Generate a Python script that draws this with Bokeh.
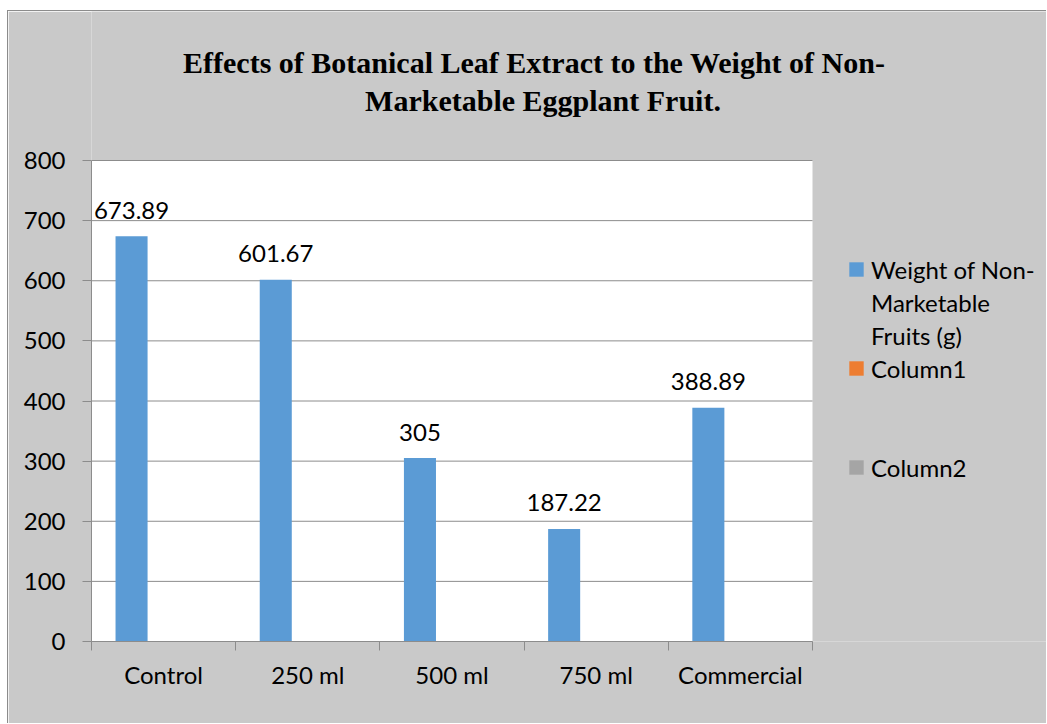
import numpy as np
from bokeh.plotting import figure
from bokeh.models import (BoxAnnotation, ColumnDataSource, FixedTicker, Label,
                          Legend, LegendItem, Range1d)
from bokeh.transform import dodge
from bokeh.core.properties import value
from bokeh.embed import file_html
from bokeh.resources import INLINE

# --- data -------------------------------------------------------------
categories = ["Control", "250 ml", "500 ml", "750 ml", "Commercial"]
weight_g = [673.89, 601.67, 305, 187.22, 388.89]
column1 = [np.nan, np.nan, np.nan, np.nan, np.nan]
column2 = [np.nan, np.nan, np.nan, np.nan, np.nan]
y_ticks = [0, 100, 200, 300, 400, 500, 600, 700, 800]
y_max = 800
series_lines = [["Weight of Non-", "Marketable", "Fruits (g)"], ["Column1"], ["Column2"]]
title_lines = ["Effects of Botanical Leaf  Extract to the Weight of Non-",
               "Marketable Eggplant Fruit."]

# --- styling ----------------------------------------------------------
FONT = "Lato"
TITLE_FONT = "Liberation Serif"
BG = "#C9C9C9"
LINE = "#8C8C8C"
COLORS = ["#5B9BD5", "#ED7D31", "#A5A5A5"]
FS = "24px"

# canvas / plot-area geometry (pixels)
W, H = 1039, 713
LEFT, BOTTOM = 83, 83          # room for the axes
PLOT_W, PLOT_H = 721, 481      # white plotting area
FRAME_W, FRAME_H = W - LEFT, H - BOTTOM

n = len(categories)
centers = np.arange(n) + 0.5
bar_w = 2 / 9  # three series per group, gap of 1.5 bar widths
source = ColumnDataSource(dict(
    x=centers, cat=categories, weight=weight_g, col1=column1, col2=column2,
    label=[f"{v:g}" for v in weight_g],
))

# the frame spans the whole chart area; the data region sits in its lower left
p = figure(width=W, height=H, title=None,
           x_range=Range1d(0, n * FRAME_W / PLOT_W),
           y_range=Range1d(0, y_max * FRAME_H / PLOT_H),
           output_backend="svg", toolbar_location=None,
           min_border_left=LEFT, min_border_top=0,
           min_border_right=0, min_border_bottom=BOTTOM,
           background_fill_color=BG, border_fill_color=BG,
           outline_line_color=None, margin=(10, 0, 0, 7))
p.styles = {"border-top": f"1px solid {LINE}", "border-left": f"1px solid {LINE}"}

# white plotting area
p.add_layout(BoxAnnotation(left=0, right=n, bottom=0, top=y_max,
                           fill_color="white", fill_alpha=1, line_color=None,
                           level="underlay"))

# horizontal gridlines across the plotting area
grid_src = ColumnDataSource(dict(y=y_ticks, x0=[0] * len(y_ticks), x1=[n] * len(y_ticks)))
p.segment(x0="x0", x1="x1", y0="y", y1="y", source=grid_src,
          line_color=LINE, line_width=1)

renderers = []
for i, (col, color) in enumerate(zip(["weight", "col1", "col2"], COLORS)):
    r = p.vbar(x=dodge("x", (i - 1) * bar_w), top=col, width=bar_w,
               source=source, fill_color=color, line_color=None)
    renderers.append(r)
# invisible renderer for legend rows without a swatch
blank = p.vbar(x="x", top="col1", width=bar_w, source=source,
               fill_alpha=0, line_color=None)

p.text(x=dodge("x", -bar_w), y="weight", text="label", source=source,
       text_align="center", text_baseline="middle", y_offset=-26,
       text_font=value(FONT), text_font_size=FS, text_color="black")

# y axis
p.yaxis.ticker = FixedTicker(ticks=y_ticks)
p.yaxis.bounds = (0, y_max)
p.yaxis.major_tick_out = 9
p.yaxis.major_tick_in = 0
p.yaxis.major_label_standoff = 17
# x axis: labels at group centres, tick marks at group boundaries
p.xaxis.ticker = FixedTicker(ticks=list(centers), minor_ticks=list(range(n + 1)))
p.xaxis.bounds = (0, n)
p.xaxis.major_label_overrides = {float(c): t for c, t in zip(centers, categories)}
p.xaxis.major_tick_out = 0
p.xaxis.major_tick_in = 0
p.xaxis.minor_tick_out = 9
p.xaxis.minor_tick_in = 0
p.xaxis.major_label_standoff = 9
for ax in (p.xaxis, p.yaxis):
    ax.axis_line_color = LINE
    ax.major_tick_line_color = LINE
    ax.minor_tick_line_color = LINE
    ax.major_label_text_font = FONT
    ax.major_label_text_font_size = FS
    ax.major_label_text_color = "black"
p.yaxis.minor_tick_line_color = None
p.xgrid.visible = False
p.ygrid.visible = False

# two-line title (screen offsets from the plot's lower-left corner)
for line, (sx, sy) in zip(title_lines, [(446.5, 579), (451.5, 541)]):
    p.add_layout(Label(x=sx, y=sy, x_units="screen", y_units="screen",
                       text=line, text_align="center", text_baseline="middle",
                       text_font=TITLE_FONT, text_font_style="bold",
                       text_font_size="30px", text_color="black"))

# legend: one row per text line, blank rows keep the spacing between entries
items = [LegendItem(label=series_lines[0][0], renderers=[renderers[0]])]
items += [LegendItem(label=t, renderers=[blank]) for t in series_lines[0][1:]]
items += [LegendItem(label=series_lines[1][0], renderers=[renderers[1]])]
items += [LegendItem(label=" ", renderers=[blank]) for _ in range(2)]
items += [LegendItem(label=series_lines[2][0], renderers=[renderers[2]])]
legend = Legend(items=items, location=(756, 159),
                glyph_width=18, glyph_height=18, label_standoff=6,
                label_text_font=FONT, label_text_font_size=FS,
                label_text_color="black", padding=0, margin=0,
                border_line_color=None, background_fill_alpha=0,
                spacing=3, label_height=30)
p.add_layout(legend, "center")

open("out.html", "w").write(file_html(p, INLINE))
